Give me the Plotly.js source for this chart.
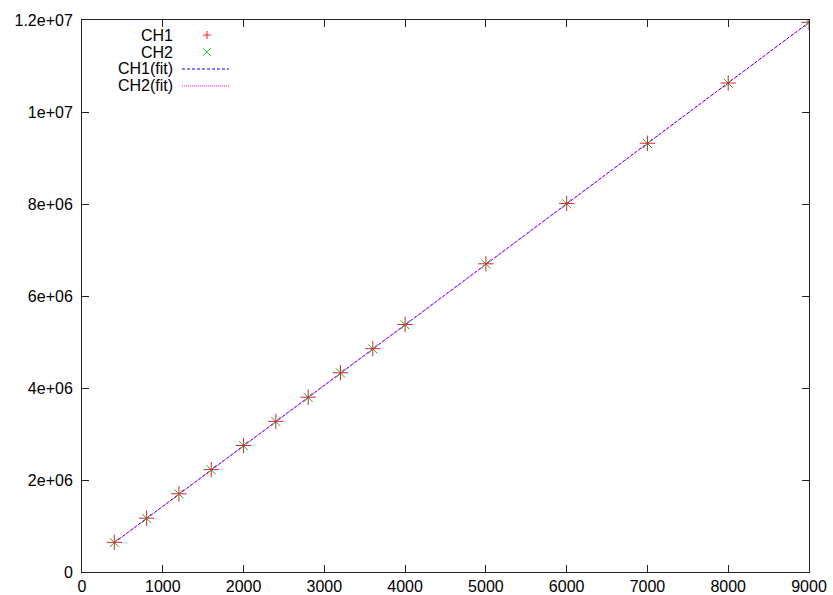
<!DOCTYPE html>
<html>
<head>
<meta charset="utf-8">
<script src="https://cdn.plot.ly/plotly-3.0.1.min.js"></script>
<style>html,body{margin:0;padding:0;background:#fff;}#chart{width:833px;height:595px;}</style>
</head>
<body>
<div id="chart"></div>
<script>
// Data
const xValues = [400, 800, 1200, 1600, 2000, 2400, 2800, 3200, 3600, 4000, 5000, 6000, 7000, 8000, 9000];
const ch1 = [0.645e6, 1.170e6, 1.700e6, 2.225e6, 2.750e6, 3.275e6, 3.800e6, 4.330e6, 4.855e6, 5.380e6, 6.700e6, 8.010e6, 9.320e6, 10.630e6, 11.950e6];
const ch2 = [0.640e6, 1.165e6, 1.695e6, 2.220e6, 2.745e6, 3.270e6, 3.795e6, 4.325e6, 4.850e6, 5.375e6, 6.695e6, 8.005e6, 9.315e6, 10.625e6, 11.945e6];
const fitX = [400, 9000];
const ch1Fit = [0.640e6, 11.950e6];
const ch2Fit = [0.635e6, 11.945e6];
const seriesNames = ["CH1", "CH2", "CH1(fit)", "CH2(fit)"];
const xTicks = [0, 1000, 2000, 3000, 4000, 5000, 6000, 7000, 8000, 9000];
const yTicks = [0, 2e6, 4e6, 6e6, 8e6, 1e7, 1.2e7];
const yTickText = ["0", "2e+06", "4e+06", "6e+06", "8e+06", "1e+07", "1.2e+07"];

const W = 833, H = 595, L = 82, R = 24, T = 20, B = 23;
const pw = W - L - R, ph = H - T - B;
const px = v => (v - L) / pw;
const py = v => (H - B - v) / ph;

const red = '#ff2020', green = '#33e033';

const traces = [
  {x: fitX, y: ch1Fit, mode: 'lines', line: {color: '#0000ff', width: 1, dash: '3px,2px'}, name: seriesNames[2], showlegend: false},
  {x: fitX, y: ch2Fit, mode: 'lines', line: {color: '#ff00ff', width: 1, dash: '1px,1px'}, name: seriesNames[3], showlegend: false},
  {x: xValues, y: ch2, mode: 'markers', marker: {symbol: 'x-thin-open', size: 9, line: {color: green, width: 1}}, name: seriesNames[1], showlegend: false},
  {x: xValues, y: ch1, mode: 'markers', marker: {symbol: 'cross-thin-open', size: 11, line: {color: red, width: 1}}, name: seriesNames[0], showlegend: false}
];

const font = {family: 'Liberation Sans, Arial, sans-serif', size: 16, color: '#000'};
const legendY = [35, 52, 69, 86];
const annotations = seriesNames.map((n, i) => ({
  xref: 'paper', yref: 'paper', x: px(175), y: py(legendY[i]), xanchor: 'right', yanchor: 'middle',
  text: n, showarrow: false, font: font
}));

const s = 4;
const shapes = [
  {type: 'line', xref: 'paper', yref: 'paper', x0: px(207 - s), x1: px(207 + s), y0: py(legendY[0]), y1: py(legendY[0]), line: {color: red, width: 1}},
  {type: 'line', xref: 'paper', yref: 'paper', x0: px(207), x1: px(207), y0: py(legendY[0] - s), y1: py(legendY[0] + s), line: {color: red, width: 1}},
  {type: 'line', xref: 'paper', yref: 'paper', x0: px(207 - s), x1: px(207 + s), y0: py(legendY[1] - s), y1: py(legendY[1] + s), line: {color: green, width: 1}},
  {type: 'line', xref: 'paper', yref: 'paper', x0: px(207 - s), x1: px(207 + s), y0: py(legendY[1] + s), y1: py(legendY[1] - s), line: {color: green, width: 1}},
  {type: 'line', xref: 'paper', yref: 'paper', x0: px(182), x1: px(229), y0: py(legendY[2]), y1: py(legendY[2]), line: {color: '#0000ff', width: 1, dash: '3px,2px'}},
  {type: 'line', xref: 'paper', yref: 'paper', x0: px(182), x1: px(229), y0: py(legendY[3]), y1: py(legendY[3]), line: {color: '#ff00ff', width: 1, dash: '1px,1px'}}
];

const axisCommon = {
  showgrid: false, zeroline: false, showline: true, linecolor: '#222', linewidth: 1,
  mirror: 'allticks', ticks: 'inside', ticklen: 7, tickwidth: 1, tickcolor: '#222',
  tickfont: font, fixedrange: true
};

const layout = {
  width: W, height: H,
  margin: {l: L, r: R, t: T, b: B, pad: 0},
  paper_bgcolor: '#fff', plot_bgcolor: '#fff',
  showlegend: false,
  xaxis: Object.assign({}, axisCommon, {range: [0, 9000], tickmode: 'array', tickvals: xTicks, ticktext: xTicks.map(String), ticklabelstandoff: 0}),
  yaxis: Object.assign({}, axisCommon, {range: [0, 1.2e7], tickmode: 'array', tickvals: yTicks, ticktext: yTickText, ticklabelstandoff: 5}),
  annotations: annotations,
  shapes: shapes
};

Plotly.newPlot('chart', traces, layout, {staticPlot: true, displayModeBar: false});
</script>
</body>
</html>
